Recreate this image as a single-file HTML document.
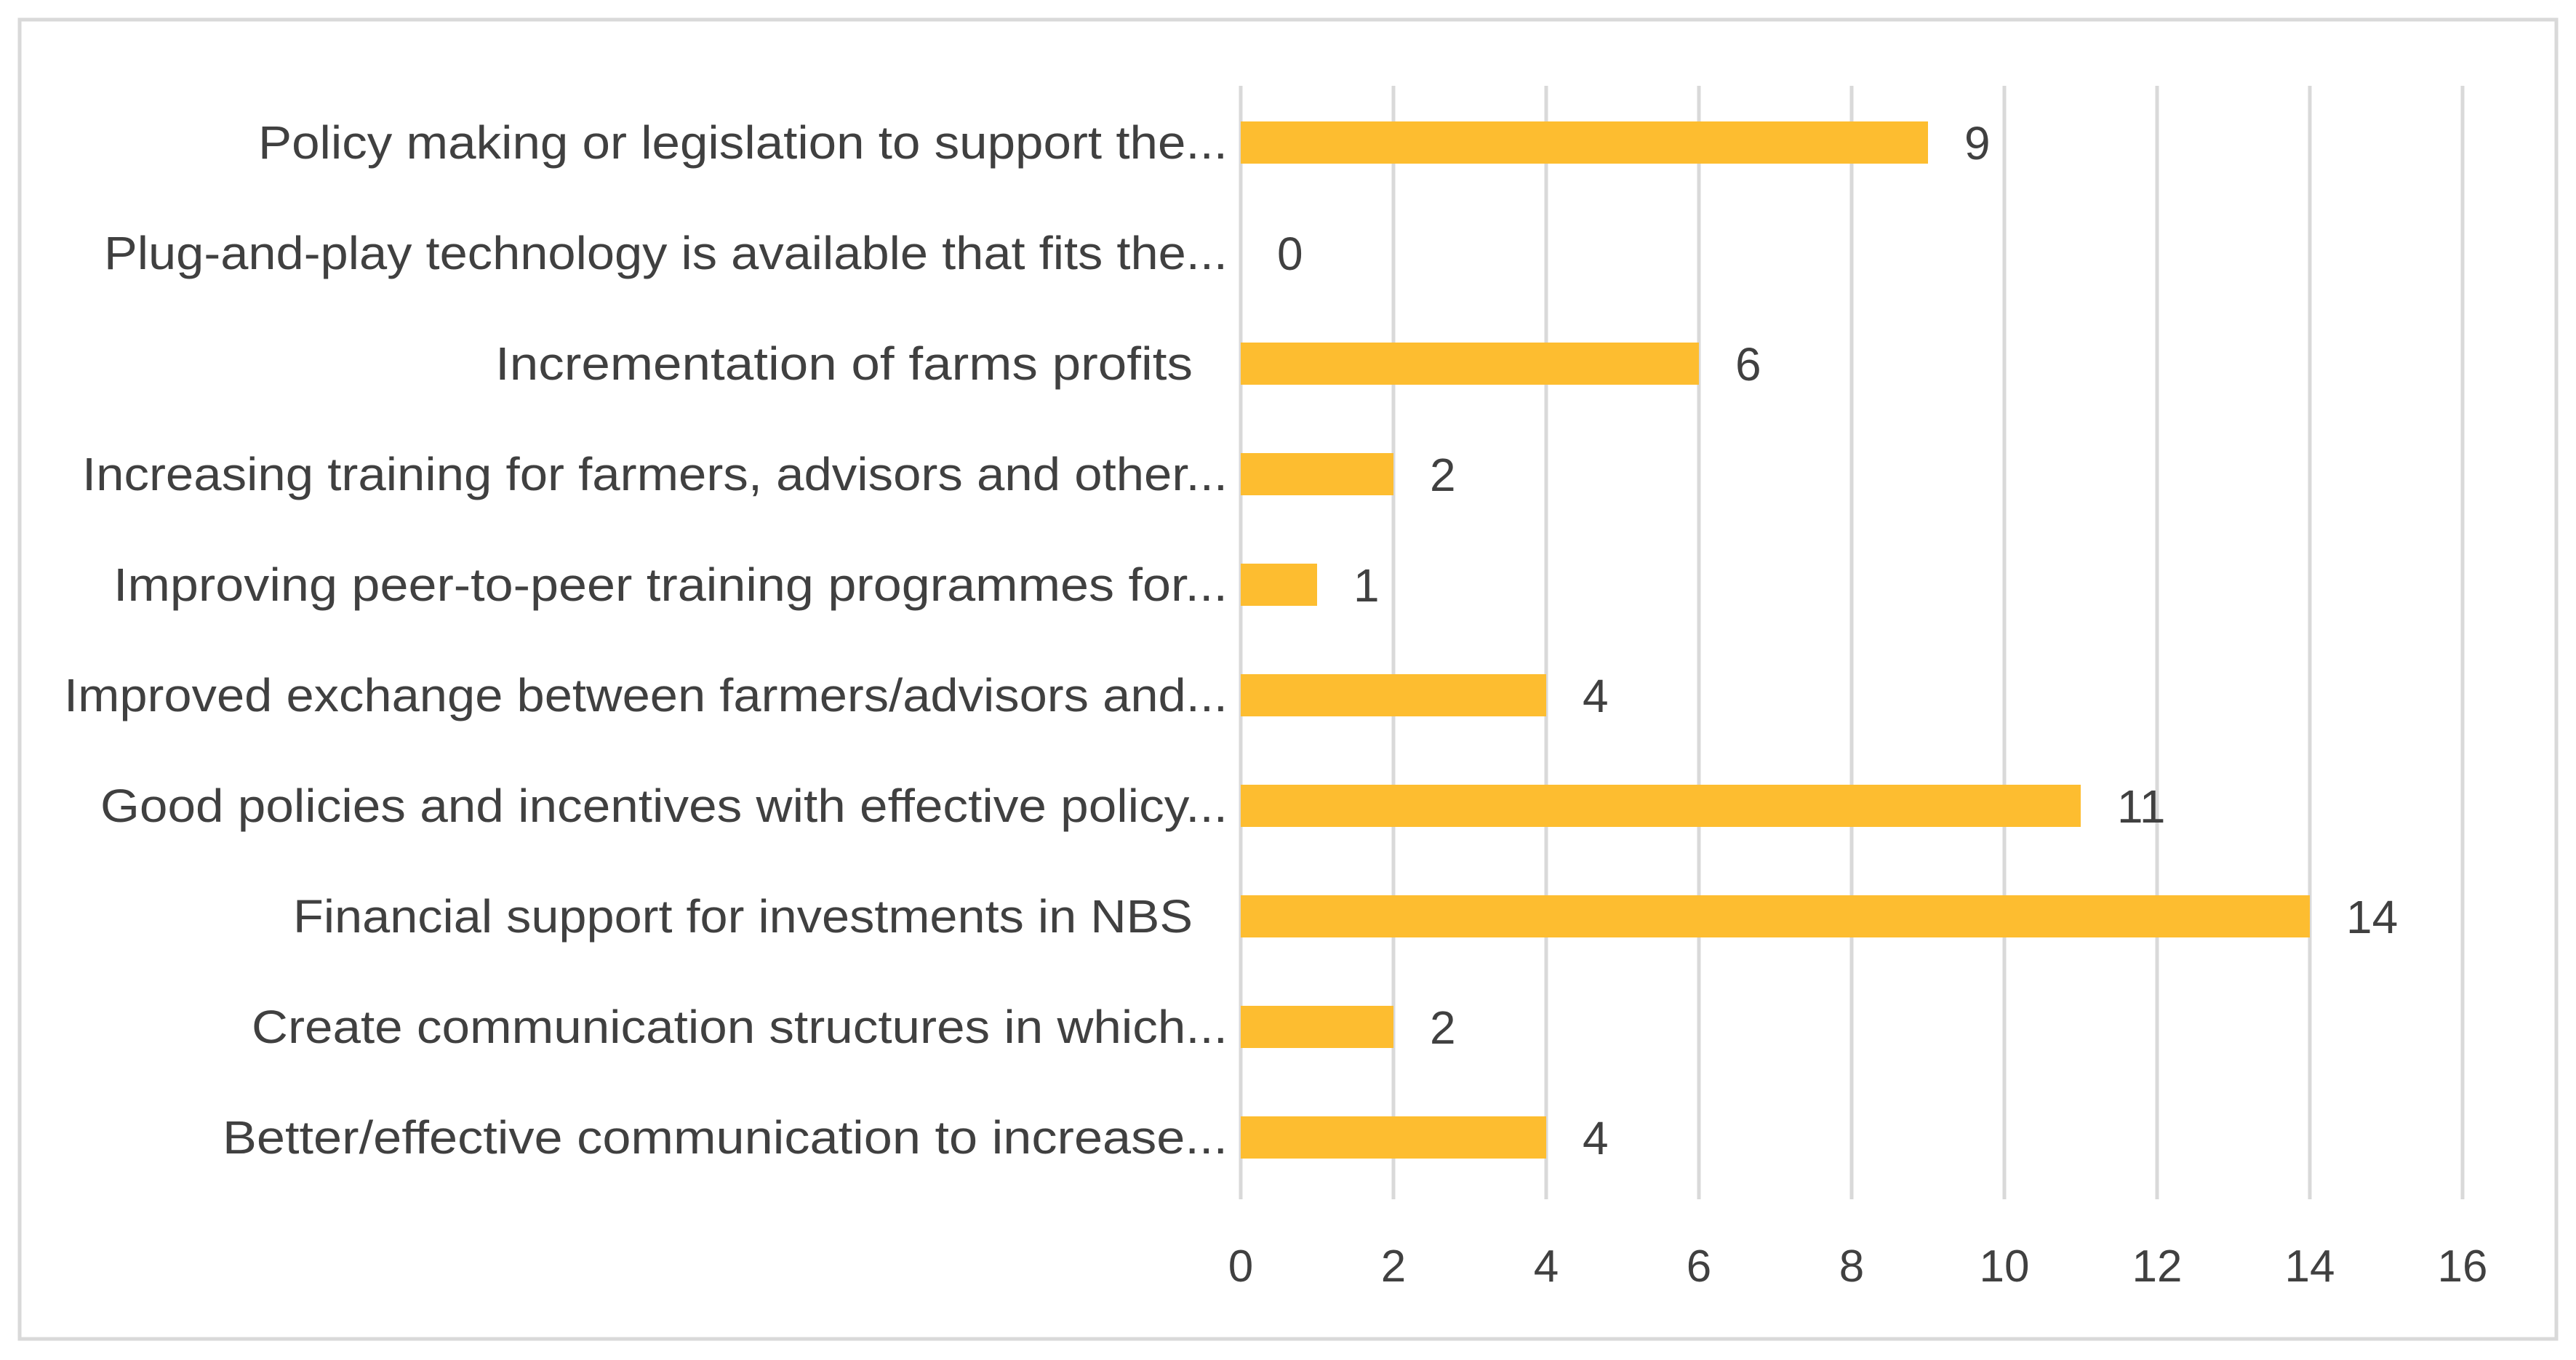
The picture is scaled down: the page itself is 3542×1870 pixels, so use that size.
<!DOCTYPE html>
<html><head><meta charset="utf-8"><style>
html,body{margin:0;padding:0;background:#fff;}
svg{display:block;}
text{font-family:"Liberation Sans",sans-serif;fill:#404040;}
</style></head><body>
<svg id="chart" width="3542" height="1870">
<rect x="27" y="27" width="3488" height="1814" fill="#fff" stroke="#d9d9d9" stroke-width="5"/>
<g id="grid"></g><g id="bars"></g><g id="labels"></g><g id="ticks"></g>
</svg>
<script>
const categories = ["Policy making or legislation to support the...","Plug-and-play technology is available that fits the...","Incrementation of farms profits","Increasing training for farmers, advisors and other...","Improving peer-to-peer training programmes for...","Improved exchange between farmers/advisors and...","Good policies and incentives with effective policy...","Financial support for investments in NBS","Create communication structures in which...","Better/effective communication to increase..."];
const values = [9,0,6,2,1,4,11,14,2,4];
const tickValues = [0,2,4,6,8,10,12,14,16];
const labelLefts = [157,63,301,50,69,39,61,178,153,135];
const NS="http://www.w3.org/2000/svg";
const x0=1706, unit=105, yTop=118, yBottom=1649, y0=196, step=152, barH=58;
const xs=v=>x0+v*unit;
const ys=i=>y0+i*step;
function mk(tag,attrs,parent){const e=document.createElementNS(NS,tag);for(const k in attrs)e.setAttribute(k,attrs[k]);document.getElementById(parent).appendChild(e);return e;}
tickValues.forEach(t=>{
  const l=mk('line',{x1:xs(t),x2:xs(t),y1:yTop,y2:yBottom,stroke:'#d9d9d9','stroke-width':5},'grid');
  
  
  const tx=mk('text',{x:xs(t),y:1762,'font-size':62,'text-anchor':'middle'},'ticks');
  tx.textContent=t;
  
  
});
categories.forEach((c,i)=>{
  const cy=ys(i);
  const r=mk('rect',{x:xs(0),y:cy-barH/2,width:xs(values[i])-xs(0),height:barH,fill:'#fdbd30'},'bars');
  
  
  const v=mk('text',{x:xs(values[i])+50,y:cy+23,'font-size':64},'labels');
  v.textContent=values[i];
  
  
  const right=(i==2||i==7)?1640:1688;
  const w=right-labelLefts[i]*2.263;
  const t=mk('text',{x:right,y:cy+22,'font-size':64,'text-anchor':'end',textLength:w.toFixed(0),lengthAdjust:'spacingAndGlyphs'},'labels');
  t.textContent=c;
  
  
});
</script>
</body></html>
